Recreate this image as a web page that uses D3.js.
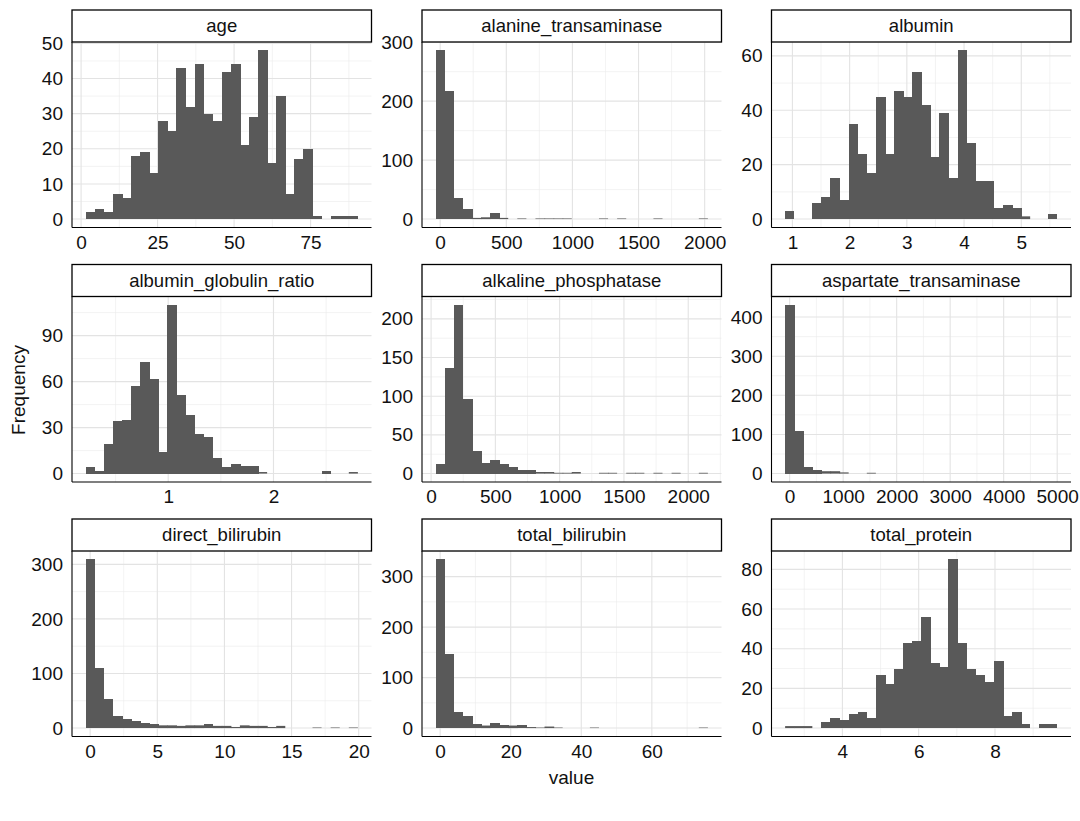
<!DOCTYPE html>
<html>
<head>
<meta charset="utf-8">
<script src="https://cdn.jsdelivr.net/npm/d3@7"></script>
<style>
  body { margin: 0; background: #fff; }
  svg { display: block; font-family: "Liberation Sans", Arial, sans-serif; }
</style>
</head>
<body>
<svg id="chart"></svg>
<script>
// facet names, in display order
const variables = ["age", "alanine_transaminase", "albumin",
  "albumin_globulin_ratio", "alkaline_phosphatase", "aspartate_transaminase",
  "direct_bilirubin", "total_bilirubin", "total_protein"];

// histogram counts, 30 bins each
const ageCounts = [2,3,2,7,6,18,19,13,28,25,43,32,44,30,28,42,44,21,29,48,16,35,7,17,20,1,0,1,1,1];
const alanineCounts = [286,218,35,17,2,3,10,2,0,1,0,1,1,1,1,0,0,0,1,0,1,0,0,0,1,0,0,0,0,1];
const albuminCounts = [3,0,0,6,8,15,7,35,24,17,45,24,47,45,54,42,23,39,15,62,28,14,14,4,5,4,1,0,0,2];
const ratioCounts = [4,2,19,34,35,57,73,62,14,110,51,38,26,24,10,4,6,5,5,1,0,0,0,0,0,0,2,0,0,1];
const alkalineCounts = [12,137,218,97,29,14,18,12,8,4,5,2,2,1,1,2,0,0,1,1,0,1,1,0,1,0,1,0,0,1];
const aspartateCounts = [431,110,16,9,6,6,3,0,0,2,0,0,0,0,0,0,0,0,0,0,0,0,0,0,0,0,0,0,0,0];
const directCounts = [309,110,53,22,16,13,10,7,5,5,4,5,5,7,4,4,2,5,4,4,2,4,0,0,0,1,0,1,0,1];
const totalBilCounts = [334,147,31,24,9,5,11,7,5,7,2,1,3,1,0,0,0,1,0,0,0,0,0,0,0,0,0,0,0,1];
const proteinCounts = [1,1,1,0,3,5,4,7,8,5,27,22,30,43,44,56,33,31,85,43,30,27,23,34,6,8,2,0,2,2];

// left edge of the first bin and bin width per variable
const binStarts = [1.482759, -34.31034, 0.872414, 0.215517, 35.29310, -84.81034, -0.337931, -1.286207, 2.498276];
const binWidths = [2.965517, 68.62069, 0.158621, 0.086207, 70.58621, 169.6207, 0.675862, 2.572414, 0.237931];

// tick values
const yTicks = [
  [0,10,20,30,40,50], [0,100,200,300], [0,20,40,60],
  [0,30,60,90], [0,50,100,150,200], [0,100,200,300,400],
  [0,100,200,300], [0,100,200,300], [0,20,40,60,80]
];
const xTicks = [
  [0,25,50,75], [0,500,1000,1500,2000], [1,2,3,4,5],
  [1,2], [0,500,1000,1500,2000], [0,1000,2000,3000,4000,5000],
  [0,5,10,15,20], [0,20,40,60], [4,6,8]
];

const allCounts = [ageCounts, alanineCounts, albuminCounts, ratioCounts, alkalineCounts,
  aspartateCounts, directCounts, totalBilCounts, proteinCounts];

const width = 1080, height = 821;
const colX = [72, 422, 771.5];
const rowY = [42, 296.5, 551];
const panelW = 299.5, panelH = 185.5, stripH = 32;
const textColor = "#111";

const svg = d3.select("#chart").attr("width", width).attr("height", height);

function minorBreaks(major, domain) {
  const step = major.length > 1 ? major[1] - major[0] : 1;
  const ext = [major[0] - step, ...major, major[major.length - 1] + step];
  const out = [];
  for (let i = 0; i < ext.length - 1; i++) {
    const m = (ext[i] + ext[i + 1]) / 2;
    if (m >= domain[0] && m <= domain[1]) out.push(m);
  }
  return out;
}

variables.forEach((name, i) => {
  const counts = allCounts[i];
  const bins = counts.map((c, k) => ({
    x0: binStarts[i] + k * binWidths[i],
    x1: binStarts[i] + (k + 1) * binWidths[i],
    n: c,
    next: k < counts.length - 1 ? counts[k + 1] : 0
  }));

  const xmin = bins[0].x0, xmax = bins[bins.length - 1].x1;
  const xpad = (xmax - xmin) * 0.05;
  const ymax = d3.max(counts);

  const x = d3.scaleLinear().domain([xmin - xpad, xmax + xpad]).range([0, panelW]);
  const y = d3.scaleLinear().domain([-0.05 * ymax, 1.05 * ymax]).range([panelH, 0]);

  const g = svg.append("g")
    .attr("transform", `translate(${colX[i % 3]},${rowY[Math.floor(i / 3)]})`);

  // grid
  const grid = g.append("g");
  grid.selectAll(".xminor").data(minorBreaks(xTicks[i], x.domain())).enter()
    .append("line")
    .attr("x1", d => x(d)).attr("x2", d => x(d))
    .attr("y1", 0).attr("y2", panelH)
    .attr("stroke", "#ebebeb").attr("stroke-width", 0.6);
  grid.selectAll(".yminor").data(minorBreaks(yTicks[i], y.domain())).enter()
    .append("line")
    .attr("x1", 0).attr("x2", panelW)
    .attr("y1", d => y(d)).attr("y2", d => y(d))
    .attr("stroke", "#ebebeb").attr("stroke-width", 0.6);
  grid.selectAll(".xmajor").data(xTicks[i]).enter()
    .append("line")
    .attr("x1", d => x(d)).attr("x2", d => x(d))
    .attr("y1", 0).attr("y2", panelH)
    .attr("stroke", "#e3e3e3").attr("stroke-width", 1.1);
  grid.selectAll(".ymajor").data(yTicks[i]).enter()
    .append("line")
    .attr("x1", 0).attr("x2", panelW)
    .attr("y1", d => y(d)).attr("y2", d => y(d))
    .attr("stroke", "#e3e3e3").attr("stroke-width", 1.1);

  // bars; tall ones drawn crisp so neighbours leave no seams
  g.selectAll("rect.bar").data(bins.filter(b => b.n > 0)).enter()
    .append("rect")
    .attr("class", "bar")
    .attr("x", d => x(d.x0))
    .attr("width", d => x(d.x1) - x(d.x0) + (d.next > 0 ? 0.6 : 0))
    .attr("y", d => y(d.n))
    .attr("height", d => y(0) - y(d.n))
    .attr("shape-rendering", d => (y(0) - y(d.n)) > 3 ? "crispEdges" : null)
    .attr("fill", "#595959");

  // tick labels
  const ya = g.append("g").call(d3.axisLeft(y).tickValues(yTicks[i])
    .tickFormat(d => String(d)).tickSize(0).tickPadding(9));
  const xa = g.append("g").attr("transform", `translate(0,${panelH})`)
    .call(d3.axisBottom(x).tickValues(xTicks[i])
      .tickFormat(d => String(d)).tickSize(0).tickPadding(8));
  [ya, xa].forEach(a => {
    a.select(".domain").remove();
    a.selectAll("text").attr("font-size", 19).attr("fill", textColor)
      .attr("font-family", "Liberation Sans, Arial, sans-serif");
  });

  // axis lines
  g.append("line").attr("x1", 0).attr("x2", 0).attr("y1", 0).attr("y2", panelH)
    .attr("stroke", "#000").attr("stroke-width", 1.1);
  g.append("line").attr("x1", 0).attr("x2", panelW).attr("y1", panelH).attr("y2", panelH)
    .attr("stroke", "#000").attr("stroke-width", 1.1);

  // strip
  g.append("rect")
    .attr("x", 0).attr("y", -stripH).attr("width", panelW).attr("height", stripH)
    .attr("fill", "#fff").attr("stroke", "#000").attr("stroke-width", 1.3);
  g.append("text")
    .attr("x", panelW / 2).attr("y", -stripH / 2)
    .attr("dy", "0.35em")
    .attr("text-anchor", "middle")
    .attr("font-size", 18.5).attr("fill", textColor)
    .text(name);
});

svg.append("text")
  .attr("transform", "translate(18,390) rotate(-90)")
  .attr("text-anchor", "middle").attr("dy", "0.35em")
  .attr("font-size", 19).attr("fill", textColor)
  .text("Frequency");

svg.append("text")
  .attr("x", 571.5).attr("y", 784)
  .attr("text-anchor", "middle")
  .attr("font-size", 19).attr("fill", textColor)
  .text("value");
</script>
</body>
</html>
